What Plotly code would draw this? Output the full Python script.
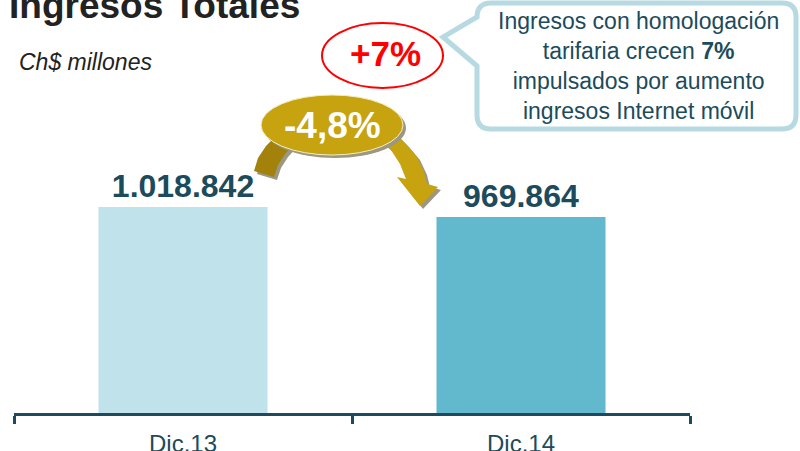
import plotly.graph_objects as go

# ---- data ----
categories = ["Dic.13", "Dic.14"]
ingresos = [1018842, 969864]
bar_colors = ["#c0e2eb", "#62b8cd"]
title_text = "Ingresos Totales"
subtitle_text = "Ch$ millones"
growth_label = "+7%"
change_label = "-4,8%"
callout_lines = [
    "Ingresos con homologación",
    "tarifaria crecen <b>7%</b>",
    "impulsados por aumento",
    "ingresos Internet móvil",
]

# ---- layout geometry (body margin removed via post_script) ----
OFF = 0
W, H = 800, 451
ML, MR, MT, MB = 14, 110, 0, 38
PW = W - ML - MR
PH = H - MT - MB

def px(x):
    return (x - OFF - ML) / PW

def py(y):
    return (H - MB - (y - OFF)) / PH

def poly(points):
    return "M " + " L ".join(f"{px(x):.5f},{py(y):.5f}" for x, y in points) + " Z"

FONT = "Liberation Sans, Arial, sans-serif"
DARK = "#1b4b5c"

fig = go.Figure()
fig.add_trace(go.Bar(
    x=categories, y=ingresos,
    marker=dict(color=bar_colors, line=dict(width=0)),
    width=0.5,
    texttemplate="<b>%{y:,.0f}</b>",
    textposition="outside",
    textfont=dict(family=FONT, size=32, color=DARK),
    cliponaxis=False,
    hoverinfo="skip",
))

shapes = []
# callout box with tail
x0, x1, y0, y1, r = 477, 796, 3, 129, 14
callout_path = (
    f"M {px(x0+r):.5f},{py(y0):.5f} L {px(x1-r):.5f},{py(y0):.5f} "
    f"Q {px(x1):.5f},{py(y0):.5f} {px(x1):.5f},{py(y0+r):.5f} "
    f"L {px(x1):.5f},{py(y1-r):.5f} Q {px(x1):.5f},{py(y1):.5f} {px(x1-r):.5f},{py(y1):.5f} "
    f"L {px(x0+r):.5f},{py(y1):.5f} Q {px(x0):.5f},{py(y1):.5f} {px(x0):.5f},{py(y1-r):.5f} "
    f"L {px(x0):.5f},{py(66):.5f} L {px(443):.5f},{py(37):.5f} L {px(x0):.5f},{py(17):.5f} "
    f"Q {px(x0):.5f},{py(y0):.5f} {px(x0+r):.5f},{py(y0):.5f} Z"
)
shapes.append(dict(type="path", xref="paper", yref="paper", path=callout_path,
                   fillcolor="white", line=dict(color="#b7d9e2", width=5)))

# red ellipse
shapes.append(dict(type="circle", xref="paper", yref="paper",
                   x0=px(322), x1=px(443), y0=py(23), y1=py(88),
                   fillcolor="white", line=dict(color="#ff0000", width=2)))

# curved arrow (shadow first)
left_stub = [(254, 171), (258, 158), (266, 146), (276, 136), (296, 142),
             (285, 154), (278, 165), (274, 177)]
right_arrow = [(380, 140), (391, 150), (400, 164), (406, 179), (397, 177),
               (420, 206), (438, 187), (427, 184), (424, 172), (417, 157),
               (406, 144), (396, 134)]
shadow = "#9c9782"
for pts, col in [(left_stub, "#a3820b"), (right_arrow, "#c6a30f")]:
    shapes.append(dict(type="path", xref="paper", yref="paper",
                       path=poly([(x + 3, y + 3) for x, y in pts]),
                       fillcolor=shadow, line=dict(width=0)))
    shapes.append(dict(type="path", xref="paper", yref="paper",
                       path=poly(pts), fillcolor=col, line=dict(width=0)))

# gold ellipse with shadow
shapes.append(dict(type="circle", xref="paper", yref="paper",
                   x0=px(264), x1=px(406), y0=py(98), y1=py(158),
                   fillcolor=shadow, line=dict(width=0)))
shapes.append(dict(type="circle", xref="paper", yref="paper",
                   x0=px(261), x1=px(403), y0=py(95), y1=py(155),
                   fillcolor="#c6a30f", line=dict(color="#f3eec0", width=1)))

annotations = [
    dict(x=px(7), y=py(3), xref="paper", yref="paper", xanchor="left", yanchor="middle",
         text=f"<b>{title_text}</b><sup>*</sup>", showarrow=False,
         font=dict(family=FONT, size=37, color="#222222")),
    dict(x=px(17), y=py(62), xref="paper", yref="paper", xanchor="left", yanchor="middle",
         text=f"<i>{subtitle_text}</i>", showarrow=False,
         font=dict(family=FONT, size=23, color="#222222")),
    dict(x=px(385), y=py(53), xref="paper", yref="paper", xanchor="center", yanchor="middle",
         text=f"<b>{growth_label}</b>", showarrow=False,
         font=dict(family=FONT, size=35, color="#ff0000")),
    dict(x=px(332), y=py(125), xref="paper", yref="paper", xanchor="center", yanchor="middle",
         text=f"<b>{change_label}</b>", showarrow=False,
         font=dict(family=FONT, size=37, color="white")),
    dict(x=px(638), y=py(66), xref="paper", yref="paper", xanchor="center", yanchor="middle",
         text="<br>".join(callout_lines), showarrow=False, align="center",
         font=dict(family=FONT, size=23, color=DARK)),
]

fig.update_layout(
    width=W, height=H, autosize=False,
    margin=dict(l=ML, r=MR, t=MT, b=MB, pad=0),
    paper_bgcolor="white", plot_bgcolor="white",
    separators=",.",
    showlegend=False,
    hovermode=False,
    shapes=shapes,
    annotations=annotations,
    xaxis=dict(range=[-0.5, 1.5], showline=True, linecolor=DARK, linewidth=2.5,
               ticks="outside", tickson="boundaries", ticklen=8, tickwidth=2.5,
               tickcolor=DARK, showgrid=False, zeroline=False, automargin=False,
               ticklabelstandoff=7,
               tickfont=dict(family=FONT, size=24, color=DARK)),
    yaxis=dict(range=[0, max(ingresos) * PH / 206], visible=False, showgrid=False,
               zeroline=False, automargin=False),
)

fig.write_html("out.html",
               config={"displayModeBar": False, "responsive": False},
               post_script="document.body.style.margin='0';document.body.style.overflow='hidden';")
